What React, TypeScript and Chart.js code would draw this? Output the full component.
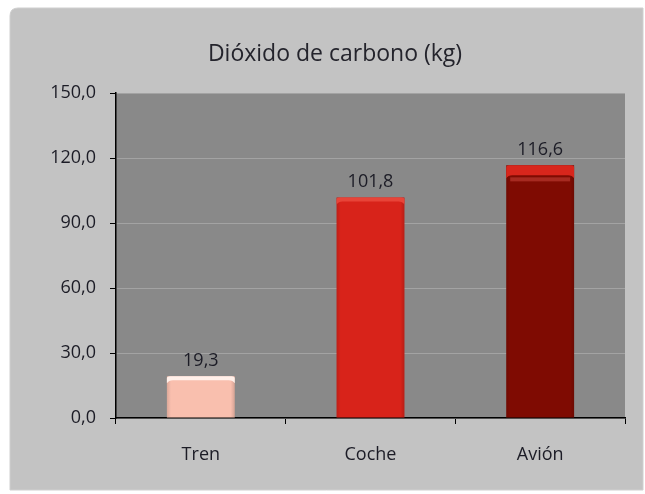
import React, { useEffect, useRef } from "react";
import { Chart, registerables } from "chart.js";

Chart.register(...registerables);

const categories = ["Tren", "Coche", "Avión"];
const values = [19.3, 101.8, 116.6];
const valueLabels = ["19,3", "101,8", "116,6"];
const titleText = "Dióxido de carbono (kg)";
const barColors = ["#f9bfae", "#d8231a", "#7f0b02"];
const capColors = ["#fff0ea", "#e84438", "#d8261c"];

const FONT = "'Open Sans', 'DejaVu Sans', sans-serif";

const panelPlugin = {
  id: "panel",
  beforeDraw(chart: any) {
    const { ctx, chartArea } = chart;
    ctx.save();
    ctx.fillStyle = "#ffffff";
    ctx.fillRect(0, 0, chart.width, chart.height);
    const x = 10, y = 8, w = 633, h = 482, r = 8;
    ctx.beginPath();
    ctx.moveTo(x + r, y);
    ctx.lineTo(x + w, y);
    ctx.lineTo(x + w, y + h);
    ctx.lineTo(x, y + h);
    ctx.lineTo(x, y + r);
    ctx.quadraticCurveTo(x, y, x + r, y);
    ctx.closePath();
    ctx.fillStyle = "#c3c3c3";
    ctx.fill();
    ctx.strokeStyle = "#cfcfcf";
    ctx.lineWidth = 1;
    ctx.stroke();
    ctx.fillStyle = "#898989";
    ctx.fillRect(chartArea.left, chartArea.top, chartArea.right - chartArea.left, chartArea.bottom - chartArea.top);
    ctx.fillStyle = "#24242c";
    ctx.font = `23px ${FONT}`;
    ctx.textAlign = "center";
    ctx.textBaseline = "alphabetic";
    ctx.fillText(titleText, 335, 61);
    ctx.restore();
  },
};

const barDecorPlugin = {
  id: "barDecor",
  afterDatasetsDraw(chart: any) {
    const { ctx } = chart;
    const meta = chart.getDatasetMeta(0);
    ctx.save();
    meta.data.forEach((bar: any, i: number) => {
      const left = bar.x - bar.width / 2;
      const w = bar.width;
      const top = bar.y;
      const bottom = bar.base;
      const g = ctx.createLinearGradient(left, 0, left + w, 0);
      g.addColorStop(0, "rgba(0,0,0,0.12)");
      g.addColorStop(0.06, "rgba(0,0,0,0)");
      g.addColorStop(0.94, "rgba(0,0,0,0)");
      g.addColorStop(1, "rgba(0,0,0,0.15)");
      ctx.fillStyle = g;
      ctx.fillRect(left, top, w, bottom - top);
      const capH = i === 2 ? 13 : 7;
      ctx.fillStyle = capColors[i];
      ctx.beginPath();
      ctx.moveTo(left, top + capH);
      ctx.lineTo(left, top + 2);
      ctx.quadraticCurveTo(left, top, left + 3, top);
      ctx.lineTo(left + w - 3, top);
      ctx.quadraticCurveTo(left + w, top, left + w, top + 2);
      ctx.lineTo(left + w, top + capH);
      ctx.quadraticCurveTo(left + w - 2, top + capH - 3, left + w - 6, top + capH - 3);
      ctx.lineTo(left + 6, top + capH - 3);
      ctx.quadraticCurveTo(left + 2, top + capH - 3, left, top + capH);
      ctx.closePath();
      ctx.fill();
      if (i === 2) {
        ctx.fillStyle = "rgba(200,70,60,0.55)";
        ctx.fillRect(left + 4, top + capH - 1, w - 8, 4);
      }
      ctx.fillStyle = "#1c1c26";
      ctx.font = `18px ${FONT}`;
      ctx.textAlign = "center";
      ctx.textBaseline = "alphabetic";
      ctx.fillText(valueLabels[i], bar.x, top - 10);
    });
    ctx.restore();
  },
};

export default function App() {
  const ref = useRef<HTMLCanvasElement | null>(null);
  useEffect(() => {
    document.body.style.margin = "0";
    const chart = new Chart(ref.current as HTMLCanvasElement, {
      type: "bar",
      data: {
        labels: categories,
        datasets: [
          {
            data: values,
            backgroundColor: barColors,
            borderWidth: 0,
            barPercentage: 0.4,
            categoryPercentage: 1,
          },
        ],
      },
      options: {
        animation: false,
        responsive: false,
        maintainAspectRatio: false,
        layout: { padding: { top: 93, right: 20, left: 0, bottom: 0 } },
        plugins: { legend: { display: false }, tooltip: { enabled: false }, title: { display: false } },
        scales: {
          x: {
            afterFit(scale: any) { scale.height = 76; },
            grid: { display: true, drawOnChartArea: false, drawTicks: true, tickLength: 6, tickColor: "#000", offset: true },
            border: { color: "#000", width: 1.5 },
            ticks: { color: "#1c1c26", font: { family: FONT, size: 18 }, padding: 20 },
          },
          y: {
            min: 0,
            max: 150,
            afterFit(scale: any) { scale.width = 116; },
            grid: { color: "#a3a3a3", lineWidth: 1, tickColor: "#000", tickLength: 6 },
            border: { color: "#000", width: 1.5 },
            ticks: {
              stepSize: 30,
              color: "#1c1c26",
              font: { family: FONT, size: 18 },
              padding: 14,
              callback: (v: any) => Number(v).toFixed(1).replace(".", ","),
            },
          },
        },
      },
      plugins: [panelPlugin, barDecorPlugin],
    });
    return () => chart.destroy();
  }, []);
  return (
    <div style={{ position: "fixed", left: 0, top: 0, width: 645, height: 494 }}>
      <canvas ref={ref} width={645} height={494} style={{ width: 645, height: 494 }} />
    </div>
  );
}
